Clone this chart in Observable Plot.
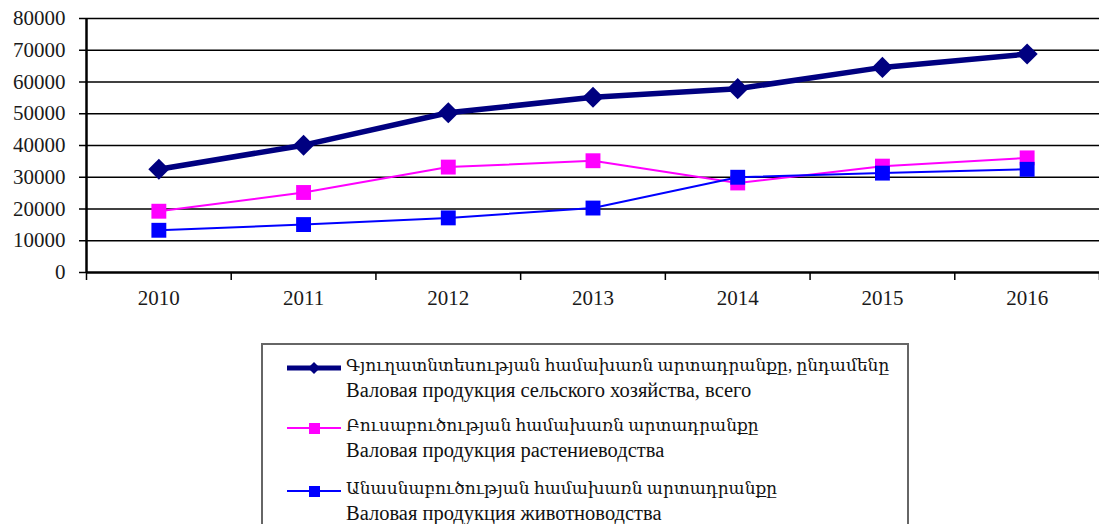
<!DOCTYPE html>
<html>
<head>
<meta charset="utf-8">
<script src="https://cdn.jsdelivr.net/npm/d3@7"></script>
<script src="https://cdn.jsdelivr.net/npm/@observablehq/plot@0.6"></script>
<style>
  html, body { margin: 0; padding: 0; background: #fff; overflow: hidden; }
  #wrap { position: relative; width: 1099px; height: 524px; }
  #legend {
    position: absolute; left: 261px; top: 343px; width: 648px; height: 200px;
    border: 2px solid #666; box-sizing: border-box; background: #fff; color: #111;
  }
  .entry { position: absolute; left: 24px; }
  .entry svg { position: absolute; left: 0; top: 0; }
  .entry .t1 { position: absolute; left: 59px; top: 0; white-space: nowrap; line-height: 22px; font-size: 17px; }
  .entry .t2 { position: absolute; left: 59px; top: 23px; white-space: nowrap; line-height: 24px; font-size: 20.5px; }
</style>
</head>
<body>
<div id="wrap"><div id="chart"></div><div id="legend" style="font-family:'Liberation Serif','DejaVu Serif',serif"></div></div>
<script>
const years = [2010, 2011, 2012, 2013, 2014, 2015, 2016];
const totalValues = [32500, 40100, 50300, 55200, 57900, 64600, 68800];
const cropValues = [19300, 25200, 33200, 35200, 28200, 33500, 36100];
const livestockValues = [13300, 15100, 17200, 20300, 30000, 31300, 32500];
const yTicks = [0, 10000, 20000, 30000, 40000, 50000, 60000, 70000, 80000];
const seriesNames = [
  ["Գյուղատնտեսության համախառն արտադրանքը, ընդամենը", "Валовая продукция сельского хозяйства, всего"],
  ["Բուսաբուծության համախառն արտադրանքը", "Валовая продукция растениеводства"],
  ["Անասնաբուծության համախառն արտադրանքը", "Валовая продукция животноводства"]
];
const colors = ["#000080", "#ff00ff", "#0000ff"];
const serif = "Liberation Serif";

const total = years.map((y, i) => ({year: y, value: totalValues[i]}));
const crop = years.map((y, i) => ({year: y, value: cropValues[i]}));
const livestock = years.map((y, i) => ({year: y, value: livestockValues[i]}));
const boundaries = [...years.map(y => y - 0.5), years[years.length - 1] + 0.5];

const chart = Plot.plot({
  width: 1099,
  height: 330,
  marginLeft: 86,
  marginRight: 0,
  marginTop: 18,
  marginBottom: 58,
  style: {fontFamily: serif, fontSize: "21px", color: "#1a1a1a", background: "#fff"},
  x: {type: "linear", domain: [years[0] - 0.5, years[years.length - 1] + 0.5]},
  y: {domain: [0, 80000]},
  marks: [
    Plot.ruleY(yTicks.filter(d => d > 0), {stroke: "#000", strokeWidth: 1.4}),
    Plot.axisY({ticks: yTicks, tickFormat: d => String(d), tickSize: 7, tickPadding: 14, label: null, stroke: "#000", strokeWidth: 1.5, fontFamily: serif, fontSize: 21}),
    Plot.axisX({ticks: years, tickFormat: d => String(d), tickSize: 0, tickPadding: 18, label: null, fontFamily: serif, fontSize: 21}),
    Plot.axisX({ticks: boundaries, tickFormat: () => "", tickSize: 8, label: null, stroke: "#000", strokeWidth: 1.5}),
    Plot.ruleY([0], {stroke: "#000", strokeWidth: 2.5}),
    Plot.ruleX([boundaries[0]], {y1: 0, y2: 80000, stroke: "#000", strokeWidth: 2.5}),
    Plot.line(crop, {x: "year", y: "value", stroke: colors[1], strokeWidth: 2}),
    Plot.dot(crop, {x: "year", y: "value", symbol: "square", r: 8.4, fill: colors[1], stroke: "none"}),
    Plot.line(livestock, {x: "year", y: "value", stroke: colors[2], strokeWidth: 2}),
    Plot.dot(livestock, {x: "year", y: "value", symbol: "square", r: 8.4, fill: colors[2], stroke: "none"}),
    Plot.line(total, {x: "year", y: "value", stroke: colors[0], strokeWidth: 5.5}),
    Plot.dot(total, {x: "year", y: "value", symbol: "diamond2", r: 9.5, fill: colors[0], stroke: "none"})
  ]
});
document.getElementById("chart").appendChild(chart);

const legend = document.getElementById("legend");
const tops = [10, 70, 133];
const widths = [5, 2, 2];
const markers = [
  '<path d="M27,7 L33,13 L27,19 L21,13 Z" fill="#000080"/>',
  '<rect x="22" y="8" width="11" height="11" fill="#ff00ff"/>',
  '<rect x="22" y="8" width="11" height="11" fill="#0000ff"/>'
];
seriesNames.forEach((names, i) => {
  const e = document.createElement("div");
  e.className = "entry";
  e.style.top = tops[i] + "px";
  e.innerHTML = `<svg width="56" height="26"><line x1="0" x2="54" y1="13" y2="13" stroke="${colors[i]}" stroke-width="${widths[i]}"/>${markers[i]}</svg>` +
    `<div class="t1" style="font-family:'Liberation Serif','DejaVu Serif',serif">${names[0]}</div>` +
    `<div class="t2" style="font-family:'Liberation Serif',serif">${names[1]}</div>`;
  legend.appendChild(e);
});
</script>
</body>
</html>
